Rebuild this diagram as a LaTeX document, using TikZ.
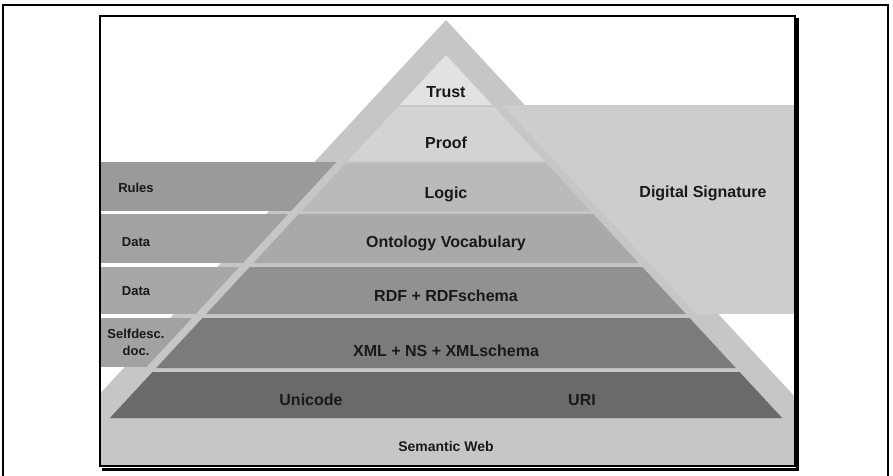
\documentclass[tikz,border=0pt]{standalone}
\usepackage{fontspec}
\setmainfont{Liberation Sans}
\usetikzlibrary{positioning, calc}
\definecolor{pyrbase}{HTML}{C6C6C6}
\definecolor{sidebox}{HTML}{A2A2A2}
\definecolor{rulesbox}{HTML}{9A9A9A}
\definecolor{sigbox}{HTML}{CDCDCD}
\tikzstyle{layertext} = [font=\fontsize{16}{19}\selectfont\bfseries, text=black!90, inner sep=0pt]
\tikzstyle{sidetext} = [font=\fontsize{13}{17}\selectfont\bfseries, text=black!90, align=center, inner sep=0pt]
\tikzstyle{frame} = [draw=black, line width=1.5pt]

\begin{document}
\begin{tikzpicture}[x=1pt, y=-1pt]
	\useasboundingbox (0,0) rectangle (893,475);
	\begin{scope}
		\clip (100,16) rectangle (795,466);
		% outer pyramid
		\fill[pyrbase] (446,20) -- (872,480) -- (20,480) -- cycle;
		% side boxes
		\fill[rulesbox] (100,162) rectangle (446,211);
		\fill[sidebox] (100,214) rectangle (446,263);
		\fill[sidebox!95!white] (100,267) rectangle (446,314);
		\fill[sidebox] (100,318) rectangle (446,367);
		\fill[sigbox] (446,105) rectangle (795,314);
		% strip round the layers
		\fill[pyrbase] (446,44) -- (850,480) -- (42,480) -- cycle;
		% layers
		\foreach \t/\b/\c in {55/105/E2E2E2, 107/161/D3D3D3, 163/211/BABABA, 214/263/A9A9A9,
			267/314/919191, 318/368/7B7B7B, 372/418/6A6A6A}{
			\definecolor{layerfill}{HTML}{\c}
			\fill[layerfill] ({446-0.926*(\t-55)},\t) -- ({446+0.926*(\t-55)},\t)
				-- ({446+0.926*(\b-55)},\b) -- ({446-0.926*(\b-55)},\b) -- cycle;
		}
	\end{scope}
	
	% nodes
	\node (trust) [layertext] at (446,92) {Trust};
	\node (proof) [layertext] at (446,143) {Proof};
	\node (logic) [layertext] at (446,194) {Logic};
	\node (onto) [layertext] at (446,243) {Ontology Vocabulary};
	\node (rdf) [layertext] at (446,296) {RDF + RDFschema};
	\node (xml) [layertext] at (446,351) {XML + NS + XMLschema};
	\node (unicode) [layertext] at (311,400) {Unicode};
	\node (uri) [layertext] at (582,400) {URI};
	\node (digsig) [layertext] at (703,193) {Digital Signature};
	\node (semweb) [sidetext, font=\fontsize{14}{17}\selectfont\bfseries] at (446,446) {Semantic Web};
	\node (rules) [sidetext] at (136,188) {Rules};
	\node (data-ontology) [sidetext] at (136,242) {Data};
	\node (data-rdf) [sidetext] at (136,291) {Data};
	\node (selfdesc) [sidetext] at (136,342) {Selfdesc.\\doc.};
	
	% frames
	\draw[line width=1.5pt] (3,476) -- (3,5) -- (888,5) -- (888,476);
	\draw[line width=3pt] (797,18) -- (797,469) -- (102,469);
	\draw[frame] (100,16) rectangle (795,466);
\end{tikzpicture}
\end{document}
